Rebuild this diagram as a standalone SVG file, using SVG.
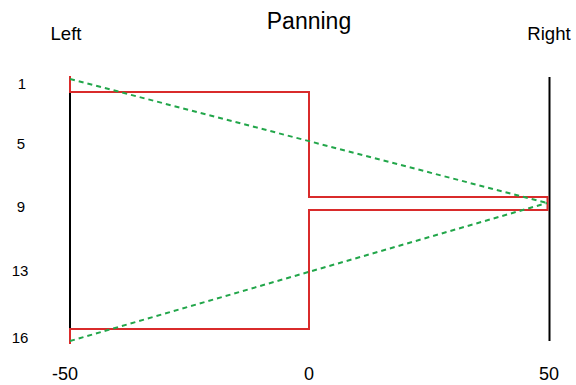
<svg xmlns="http://www.w3.org/2000/svg" width="576" height="385" viewBox="0 0 576 385">
<style>
text{font-family:"Liberation Sans",Arial,sans-serif;fill:#000}
.axis{stroke:#000;stroke-width:2;fill:none}
.red{stroke:#d92b2b;stroke-width:2;fill:none}
.green{stroke:#22a64a;stroke-width:2;fill:none;stroke-dasharray:5,4}
.ylab{font-size:15px;text-anchor:middle}
.xlab{font-size:18px;text-anchor:middle}
</style>
<rect width="576" height="385" fill="#fff"/>
<g id="title"><text x="309" y="29" font-size="23" text-anchor="middle">Panning</text></g>
<g id="side-labels">
<text x="66" y="40" font-size="18.6" text-anchor="middle">Left</text>
<text x="549" y="40" font-size="18.6" text-anchor="middle">Right</text>
</g>
<g id="y-labels">
<text class="ylab" x="22" y="89">1</text>
<text class="ylab" x="21" y="149">5</text>
<text class="ylab" x="21" y="212">9</text>
<text class="ylab" x="20" y="276">13</text>
<text class="ylab" x="20" y="343">16</text>
</g>
<g id="x-labels">
<text class="xlab" x="65" y="380">-50</text>
<text class="xlab" x="309" y="380">0</text>
<text class="xlab" x="549" y="380">50</text>
</g>
<g id="axes">
<line class="axis" x1="70" y1="76" x2="70" y2="344"/>
<line class="axis" x1="549.5" y1="77" x2="549.5" y2="341"/>
</g>
<g id="connectors">
<path class="red" d="M70,76 V92 H309 V197 H547.5 V210 H309 V329 H70 V344"/>
<path class="green" d="M70,79 L547,203"/>
<path class="green" d="M70,341 L547,203"/>
</g>
</svg>
